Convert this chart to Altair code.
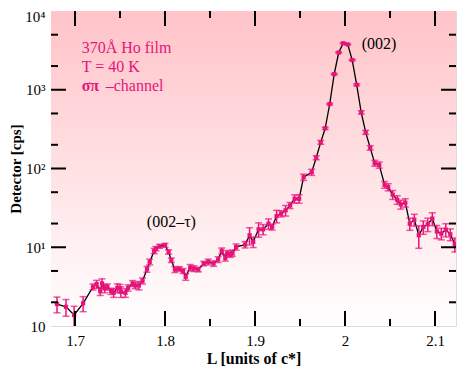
import altair as alt
import pandas as pd

# ---------------- data ----------------
L = [1.680, 1.690, 1.699, 1.709, 1.720, 1.724, 1.728, 1.730, 1.733, 1.736,
     1.740, 1.743, 1.747, 1.750, 1.751, 1.756, 1.759, 1.764, 1.767, 1.771,
     1.775, 1.780, 1.783, 1.788, 1.790, 1.794, 1.800, 1.804, 1.807, 1.811,
     1.816, 1.820, 1.823, 1.828, 1.832, 1.837, 1.843, 1.848, 1.854, 1.859,
     1.863, 1.867, 1.869, 1.873, 1.875, 1.879, 1.889, 1.894, 1.898, 1.904,
     1.909, 1.915, 1.919, 1.924, 1.929, 1.934, 1.939, 1.944, 1.949, 1.954,
     1.963, 1.968, 1.973, 1.978, 1.983, 1.988, 1.993, 1.998, 2.003, 2.008,
     2.013, 2.018, 2.023, 2.028, 2.033, 2.038, 2.044, 2.048, 2.053, 2.058,
     2.062, 2.067, 2.072, 2.077, 2.082, 2.087, 2.092, 2.097, 2.102, 2.107,
     2.112, 2.117, 2.122]
counts = [1.90, 1.75, 1.38, 1.94, 3.14, 3.40, 2.77, 3.47, 3.00, 3.14,
          2.77, 2.64, 3.05, 3.00, 2.72, 2.64, 3.05, 3.47, 3.27, 3.27,
          3.74, 5.27, 6.52, 8.98, 9.63, 10.3, 10.6, 8.72, 6.85, 5.22,
          5.31, 5.01, 4.21, 5.53, 5.37, 5.22, 6.22, 6.52, 6.22, 6.99,
          8.98, 7.32, 8.32, 8.15, 8.47, 10.1, 10.8, 14.2, 11.7, 16.9,
          16.9, 19.9, 18.1, 24.9, 26.7, 29.4, 34.0, 41.3, 41.3, 77.6,
          89.8, 137, 215, 324, 659, 1580, 2967, 3900, 3767, 2384,
          1157, 516, 288, 183, 117, 111, 62.2, 58.0, 46.5, 40.1,
          35.0, 36.8, 19.9, 22.4, 14.2, 18.1, 19.6, 23.1, 15.9, 14.9,
          16.7, 14.6, 10.9]
errors = [0.43, 0.42, 0.40, 0.42, 0.28, 0.40, 0.33, 0.50, 0.36, 0.28,
          0.25, 0.33, 0.38, 0.37, 0.42, 0.33, 0.28, 0.30, 0.30, 0.40,
          0.33, 0.45, 0.55, 0.70, 0.60, 0.60, 0.60, 0.55, 0.45, 0.45,
          0.35, 0.35, 0.40, 0.50, 0.45, 0.35, 0.40, 0.55, 0.50, 0.60,
          0.80, 0.65, 0.75, 0.70, 0.75, 0.90, 1.0, 3.5, 1.8, 3.5,
          2.5, 3.0, 1.6, 4.5, 2.4, 4.5, 3.0, 5.0, 5.0, 7.0,
          8.0, 8.0, 12, 10, 15, 30, 50, 60, 60, 45,
          30, 25, 17, 12, 10, 10, 6.0, 6.0, 6.0, 5.0,
          4.5, 4.5, 3.5, 3.8, 4.5, 3.5, 3.8, 4.3, 3.0, 2.5,
          3.2, 2.5, 2.2]

x_major = [1.7, 1.8, 1.9, 2.0, 2.1]
x_minor = [1.75, 1.85, 1.95, 2.05]
y_major = [10, 100, 1000]
y_minor = [2, 5, 20, 50, 200, 500, 2000, 5000]
y_tick_values = [1, 10, 100, 1000, 10000]
y_tick_labels = ["10", "10\u00b9", "10\u00b2", "10\u00b3", "10\u2074"]

info_lines = ["370\u00c5 Ho film", "T = 40 K"]
info_x = [1.7074, 1.7074]
info_y = [2904, 1666]
chan_bold = "\u03c3\u03c0"
chan_rest = "\u2013channel"
chan_x = [1.7074, 1.7341]
chan_y = 964
peak_labels = ["(002)", "(002\u2013\u03c4)"]
peak_x = [2.0378, 1.8071]
peak_y = [3821, 20.9]

# ---------------- styling ----------------
W, H = 405, 315
MAG = "#E8137A"
FONT = "Liberation Serif"

df = pd.DataFrame({"L": L, "c": counts, "err": errors})
df["lo"] = df["c"] - df["err"]
df["hi"] = df["c"] + df["err"]

xs = alt.Scale(domain=[1.67333, 2.12333], nice=False, zero=False)
ys = alt.Scale(type="log", domain=[1, 10000], nice=False)

label_expr = ""
for v, t in zip(y_tick_values, y_tick_labels):
    label_expr += f"datum.value == {v} ? '{t}' : "
label_expr += "''"

bg = alt.Chart(pd.DataFrame({"a": [0]})).mark_rect(
    fill={"gradient": "linear", "x1": 0, "y1": 0, "x2": 0, "y2": 1,
          "stops": [{"offset": 0, "color": "#FFC3C8"},
                    {"offset": 1, "color": "#FFFFFF"}]}
).encode(x=alt.value(0), x2=alt.value(W), y=alt.value(0), y2=alt.value(H))

base = alt.Chart(df)

line = base.mark_line(color="black", strokeWidth=1.3, clip=True).encode(
    x=alt.X("L:Q", scale=xs,
            axis=alt.Axis(values=x_major, format="~g", ticks=False, domain=False,
                          grid=False, labelFont=FONT, labelFontSize=15,
                          labelColor="black", labelPadding=7,
                          title="L [units of c*]", titleFont=FONT,
                          titleFontSize=16, titleFontWeight="bold",
                          titleColor="black", titlePadding=2)),
    y=alt.Y("c:Q", scale=ys,
            axis=alt.Axis(values=y_tick_values, labelExpr=label_expr, ticks=False,
                          domain=False, grid=False, labelFont=FONT,
                          labelFontSize=15, labelColor="black", labelPadding=6,
                          labelOffset={"expr": "datum.value == 10000 ? 5 : 0"},
                          title="Detector [cps]", titleFont=FONT,
                          titleFontSize=15, titleFontWeight="bold",
                          titleColor="black", titlePadding=1)),
)

bars = base.mark_rule(color=MAG, strokeWidth=1.5, clip=True).encode(
    x=alt.X("L:Q", scale=xs), y=alt.Y("lo:Q", scale=ys), y2="hi:Q")
cap_lo = base.mark_tick(color=MAG, orient="horizontal", size=7, thickness=1.5,
                        clip=True).encode(x=alt.X("L:Q", scale=xs),
                                          y=alt.Y("lo:Q", scale=ys))
cap_hi = base.mark_tick(color=MAG, orient="horizontal", size=7, thickness=1.5,
                        clip=True).encode(x=alt.X("L:Q", scale=xs),
                                          y=alt.Y("hi:Q", scale=ys))
pts = base.mark_square(color=MAG, size=18, opacity=1, clip=True).encode(
    x=alt.X("L:Q", scale=xs), y=alt.Y("c:Q", scale=ys))

def xticks(vals, y0, y1):
    return alt.Chart(pd.DataFrame({"v": vals})).mark_rule(
        color="black", strokeWidth=2).encode(
        x=alt.X("v:Q", scale=xs), y=alt.value(y0), y2=alt.value(y1))

def yticks(vals, x0, x1):
    return alt.Chart(pd.DataFrame({"v": vals})).mark_rule(
        color="black", strokeWidth=2).encode(
        y=alt.Y("v:Q", scale=ys), x=alt.value(x0), x2=alt.value(x1))

ticks = [
    xticks(x_major, H, H - 15), xticks(x_minor, H, H - 7),
    xticks(x_major, 0, 15), xticks(x_minor, 0, 7),
    yticks(y_major, 0, 15), yticks(y_minor, 0, 7),
    yticks(y_major, W, W - 15), yticks(y_minor, W, W - 7),
]

info = alt.Chart(pd.DataFrame({"t": info_lines, "x": info_x, "y": info_y})).mark_text(
    align="left", baseline="alphabetic", font=FONT, fontSize=16, color=MAG).encode(
    x=alt.X("x:Q", scale=xs), y=alt.Y("y:Q", scale=ys), text="t:N")
chan1 = alt.Chart(pd.DataFrame({"t": [chan_bold], "x": [chan_x[0]], "y": [chan_y]})).mark_text(
    align="left", baseline="alphabetic", font=FONT, fontSize=16, fontWeight="bold",
    color=MAG).encode(x=alt.X("x:Q", scale=xs), y=alt.Y("y:Q", scale=ys), text="t:N")
chan2 = alt.Chart(pd.DataFrame({"t": [chan_rest], "x": [chan_x[1]], "y": [chan_y]})).mark_text(
    align="left", baseline="alphabetic", font=FONT, fontSize=16,
    color=MAG).encode(x=alt.X("x:Q", scale=xs), y=alt.Y("y:Q", scale=ys), text="t:N")
peaks = alt.Chart(pd.DataFrame({"t": peak_labels, "x": peak_x, "y": peak_y})).mark_text(
    align="center", baseline="middle", font=FONT, fontSize=16, color="black").encode(
    x=alt.X("x:Q", scale=xs), y=alt.Y("y:Q", scale=ys), text="t:N")

chart = alt.layer(bg, line, bars, cap_lo, cap_hi, pts, *ticks, info, chan1, chan2, peaks).properties(
    width=W, height=H,
    autosize=alt.AutoSizeParams(type="none"),
    padding={"left": 43, "top": 3, "right": 1, "bottom": 40},
).configure_view(stroke="black", strokeWidth=3).configure(background="white")

chart.save("out.html", embed_options={"renderer": "svg", "actions": False})
